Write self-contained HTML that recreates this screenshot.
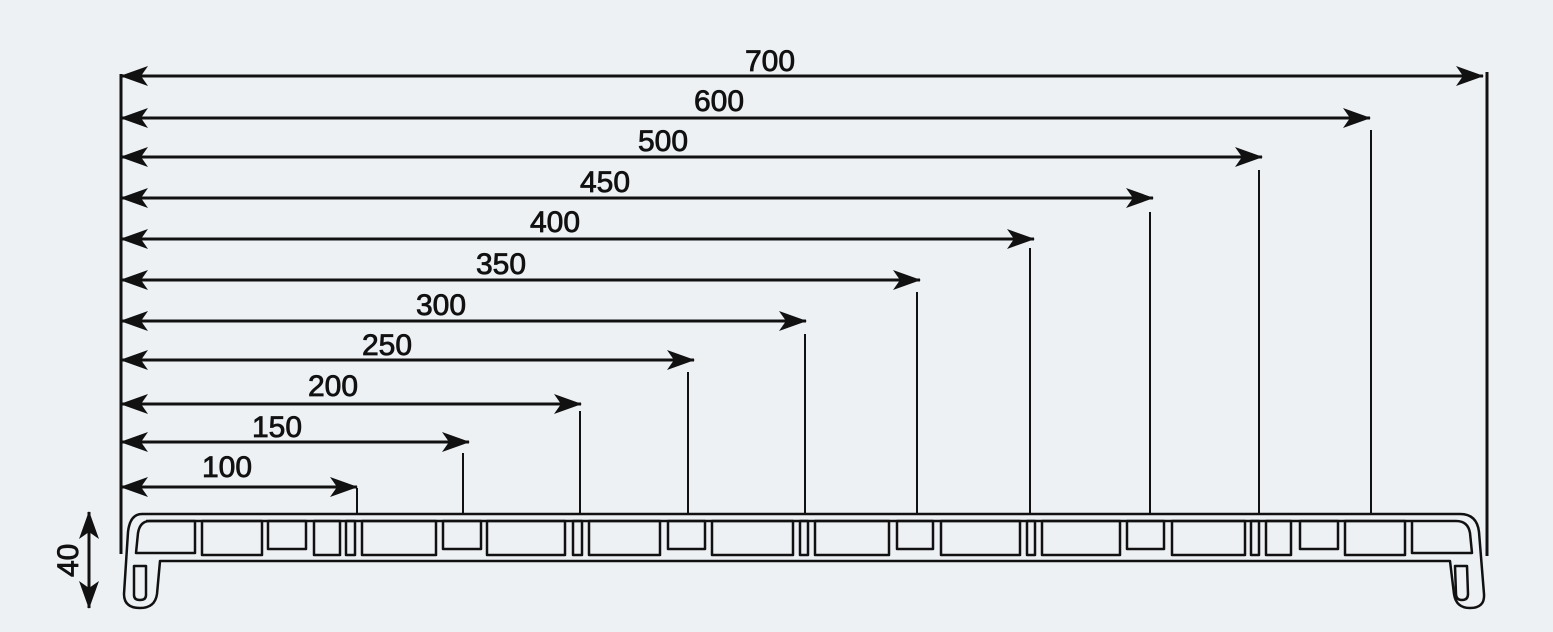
<!DOCTYPE html>
<html><head><style>
html,body{margin:0;padding:0;background:#edf1f4;}
svg{display:block}
text{font-family:"Liberation Sans",sans-serif;font-size:30px;font-weight:normal;fill:#111;stroke:#111;stroke-width:0.8;}
</style></head><body>
<svg width="1553" height="632" viewBox="0 0 1553 632" xmlns="http://www.w3.org/2000/svg">
<defs>
<marker id="b" viewBox="0 0 28 20" refX="27" refY="10" markerWidth="28" markerHeight="20" markerUnits="userSpaceOnUse" orient="auto-start-reverse">
<path d="M0,0 L28,10 L0,20 L7,10 Z" fill="#111"/>
</marker>
</defs>
<g stroke="#111" fill="none">
<line x1="121" y1="74" x2="121" y2="554" stroke-width="3"/>
<line x1="1487" y1="72" x2="1487" y2="556" stroke-width="3"/>
<g stroke-width="3" marker-start="url(#b)" marker-end="url(#b)">
<line x1="121" y1="76" x2="1483" y2="76"/>
<line x1="121" y1="118" x2="1370" y2="118"/>
<line x1="121" y1="157" x2="1262" y2="157"/>
<line x1="121" y1="198" x2="1153" y2="198"/>
<line x1="121" y1="239" x2="1034" y2="239"/>
<line x1="121" y1="280" x2="920" y2="280"/>
<line x1="121" y1="321" x2="806" y2="321"/>
<line x1="121" y1="360" x2="694" y2="360"/>
<line x1="121" y1="404" x2="581" y2="404"/>
<line x1="121" y1="442" x2="469" y2="442"/>
<line x1="121" y1="487" x2="357" y2="487"/>
</g>
<g stroke-width="2">
<line x1="1371" y1="130" x2="1371" y2="514"/>
<line x1="1259" y1="170" x2="1259" y2="514"/>
<line x1="1150" y1="212" x2="1150" y2="514"/>
<line x1="1030" y1="248" x2="1030" y2="514"/>
<line x1="917" y1="292" x2="917" y2="514"/>
<line x1="805" y1="334" x2="805" y2="514"/>
<line x1="688" y1="372" x2="688" y2="514"/>
<line x1="580" y1="411" x2="580" y2="514"/>
<line x1="463" y1="453" x2="463" y2="514"/>
<line x1="357" y1="488" x2="357" y2="514"/>
</g>
<line x1="89" y1="512" x2="89" y2="608" stroke-width="3" marker-start="url(#b)" marker-end="url(#b)"/>
<g stroke-width="2.5" stroke-linejoin="round">
<path d="M142,514 H1460 Q1477,514 1479,532 L1484,594 Q1485,608 1470,608 Q1456,608 1454,594 L1450,561 H160 L157,594 Q155,608 140,608 Q124,608 124,594 L128,532 Q130,514 142,514 Z"/>
<path d="M146,521 H1456 Q1468,521 1470,533 L1472,553 H1412 V521"/>
<path d="M136,553 L138,533 Q140,521 150,521 H195 V553 Z"/>
<path d="M134,566 H146 V595 Q146,600 140,600 Q134,600 134,595 Z"/>
<path d="M1455,566 H1467 L1468,594 Q1468,600 1462,600 Q1456,600 1456,594 Z"/>
<rect x="202" y="521" width="60" height="34"/>
<rect x="268" y="521" width="38" height="28"/>
<rect x="314" y="521" width="26" height="34"/>
<rect x="346" y="521" width="9" height="34"/>
<rect x="362" y="521" width="74" height="34"/>
<rect x="443" y="521" width="38" height="28"/>
<rect x="487" y="521" width="78" height="34"/>
<rect x="573" y="521" width="9" height="34"/>
<rect x="589" y="521" width="71" height="34"/>
<rect x="668" y="521" width="37" height="28"/>
<rect x="712" y="521" width="81" height="34"/>
<rect x="800" y="521" width="8" height="34"/>
<rect x="815" y="521" width="74" height="34"/>
<rect x="897" y="521" width="36" height="28"/>
<rect x="941" y="521" width="79" height="34"/>
<rect x="1027" y="521" width="8" height="34"/>
<rect x="1042" y="521" width="78" height="34"/>
<rect x="1127" y="521" width="37" height="28"/>
<rect x="1172" y="521" width="73" height="34"/>
<rect x="1251" y="521" width="8" height="34"/>
<rect x="1266" y="521" width="25" height="34"/>
<rect x="1300" y="521" width="38" height="28"/>
<rect x="1345" y="521" width="60" height="34"/>
</g>
</g>
<text x="745" y="71">700</text>
<text x="694" y="111">600</text>
<text x="638" y="151">500</text>
<text x="580" y="192">450</text>
<text x="530" y="232">400</text>
<text x="476" y="274">350</text>
<text x="416" y="315">300</text>
<text x="362" y="355">250</text>
<text x="308" y="396">200</text>
<text x="252" y="437">150</text>
<text x="202" y="477">100</text>
<text transform="translate(78,577) rotate(-90)">40</text>
</svg>
</body></html>
